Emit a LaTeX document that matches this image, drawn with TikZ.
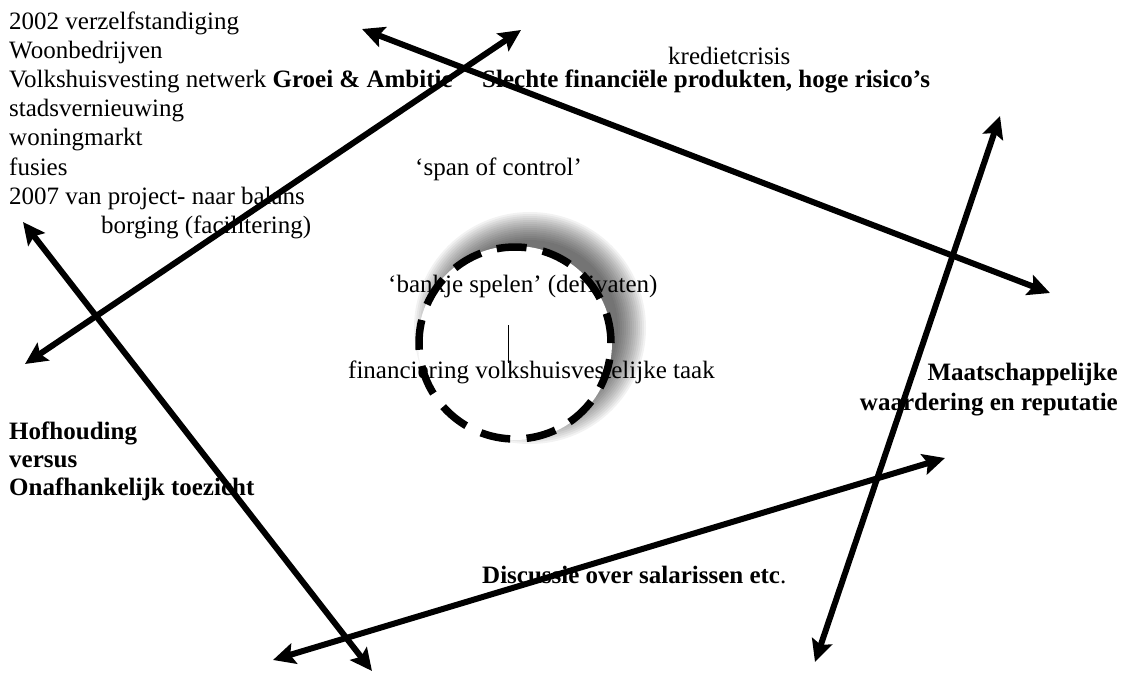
\documentclass[tikz,border=0pt]{standalone}
\usepackage{fontspec}
\setmainfont{Liberation Serif}
\usetikzlibrary{arrows.meta}
\begin{document}
\begin{tikzpicture}[x=1pt,y=-1pt,
  txt/.style={inner sep=0pt, anchor=base west, font=\fontsize{25}{28}\selectfont},
  txtr/.style={txt, anchor=base east},
  bigarrow/.style={line width=6pt, {Stealth[length=22pt,width=21pt,inset=4pt]}-{Stealth[length=22pt,width=21pt,inset=4pt]}},
  ringstyle/.style={circle, inner sep=0pt, minimum size=192pt, draw=black, line width=7.5pt, dash pattern=on 30pt off 16.4pt},
  shadowdisk/.style={fill=black, opacity=0.05}
]
\useasboundingbox (0,0) rectangle (1127,672);
% shadow of the ring
\foreach \r in {88,90,...,116} { \fill[shadowdisk] (530,328) circle[radius=\r pt]; }
\fill[white] (515,343) circle[radius=97pt];
% texts
\node[txt] (t1) at (9,29) {2002 verzelfstandiging};
\node[txt] (t2) at (9,58) {Woonbedrijven};
\node[txt] (t3) at (9,87) {Volkshuisvesting netwerk \textbf{Groei \& Ambitie}};
\node[txt] (t4) at (482,87) {\textbf{Slechte financiële produkten, hoge risico’s}};
\node[txt] (t5) at (668,64) {kredietcrisis};
\node[txt] (t6) at (9,116) {stadsvernieuwing};
\node[txt] (t7) at (9,145) {woningmarkt};
\node[txt] (t8) at (9,175) {fusies};
\node[txt] (t9) at (9,204) {2007 van project- naar balans};
\node[txt] (t10) at (101,233) {borging (facilitering)};
\node[txt] (t11) at (415,175) {‘span of control’};
\node[txt] (t12) at (388,292) {‘bankje spelen’ (derivaten)};
\node[txt] (t13) at (348,378) {financiering volkshuisvestelijke taak};
\node[txtr] (t14) at (1118,380) {\textbf{Maatschappelijke}};
\node[txtr] (t15) at (1118,410) {\textbf{waardering en reputatie}};
\node[txt] (t16) at (9,439) {\textbf{Hofhouding}};
\node[txt] (t17) at (9,467) {\textbf{versus}};
\node[txt] (t18) at (9,495) {\textbf{Onafhankelijk toezicht}};
\node[txt] (t19) at (482,583) {\textbf{Discussie over salarissen etc}.};
% dashed ring
\node[ringstyle] (ring) at (515,343) {};
\coordinate (v1) at (508,325);
\coordinate (v2) at (508,363);
\draw[line width=1pt] (v1) -- (v2);
% arrows
\coordinate (a1) at (25,364);  \coordinate (a2) at (521,30);
\coordinate (b1) at (362,29);  \coordinate (b2) at (1050,293);
\coordinate (c1) at (23,222);  \coordinate (c2) at (372,671);
\coordinate (d1) at (273,660); \coordinate (d2) at (945,458);
\coordinate (e1) at (815,662); \coordinate (e2) at (1000,116);
\draw[bigarrow] (a1) -- (a2);
\draw[bigarrow] (b1) -- (b2);
\draw[bigarrow] (c1) -- (c2);
\draw[bigarrow] (d1) -- (d2);
\draw[bigarrow] (e1) -- (e2);
\end{tikzpicture}
\end{document}
